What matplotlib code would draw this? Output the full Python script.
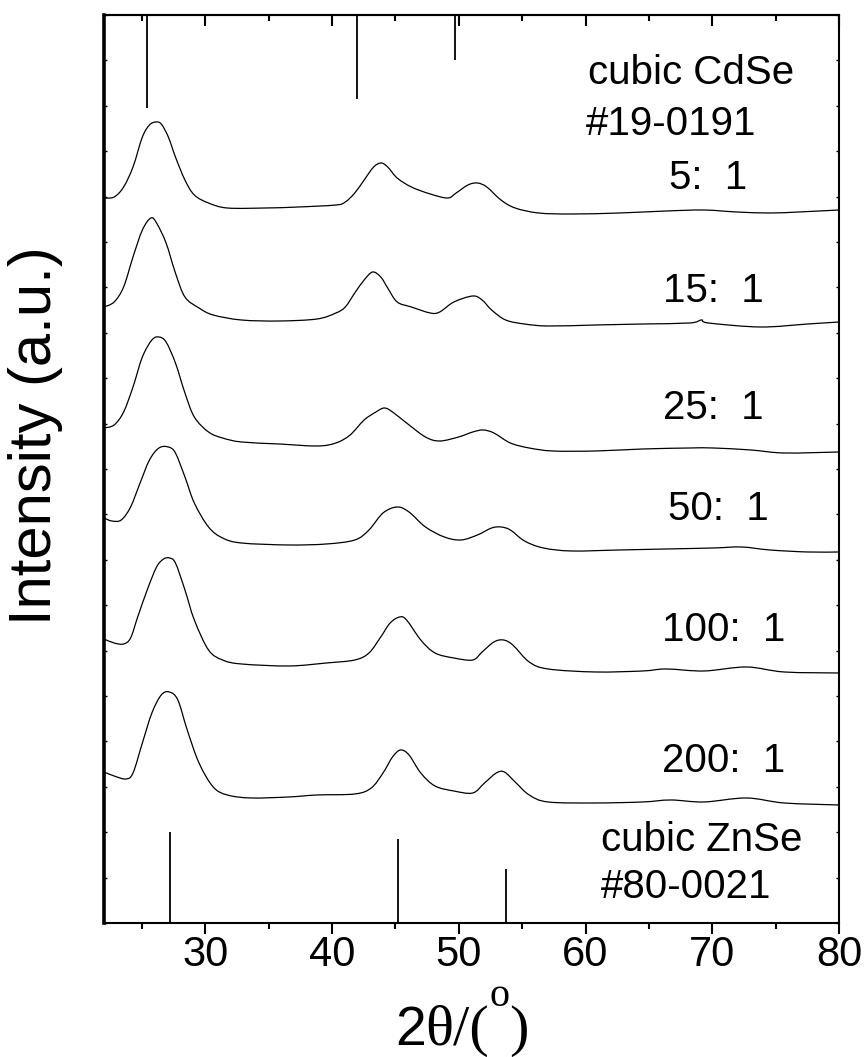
import matplotlib
matplotlib.use("Agg")
import matplotlib.pyplot as plt
from matplotlib.path import Path
from matplotlib.patches import PathPatch
from matplotlib.ticker import MultipleLocator
import numpy as np

# XRD patterns, stacked (intensity in a.u., offsets already included)
tt_5 = [22.0, 22.8, 23.55, 24.29, 25.03, 25.59, 26.08, 26.52, 27.08, 27.64, 28.39, 29.13, 30.25, 31.74,
        34.72, 37.32, 40.3, 41.04, 41.79, 42.53, 43.28, 43.87, 44.39, 45.14, 46.26, 47.75, 49.12, 49.79,
        50.72, 51.47, 52.21, 53.33, 54.45, 56.31, 58.91, 62.64, 66.36, 69.34, 71.95, 74.55, 76.78, 80.0]
y_5 = [725, 726, 736, 756, 786, 798, 801, 799, 786, 766, 743, 728, 720, 715,
       715, 716, 718, 721, 730, 743, 756, 760, 756, 745, 736, 729, 725, 730,
       738, 740, 736, 723, 715, 710, 709, 710, 712, 713, 711, 710, 711, 713]

tt_15 = [22.0, 22.8, 23.55, 24.29, 25.03, 25.7, 26.15, 26.9, 27.64, 28.39, 29.5, 30.62, 32.85, 35.83,
         38.81, 40.3, 41.04, 41.79, 42.53, 43.2, 43.84, 44.39, 45.14, 46.26, 47.75, 48.49, 49.61, 51.1,
         51.84, 52.59, 53.7, 55.19, 57.05, 60.78, 64.5, 68.22, 69.15, 69.71, 73.81, 77.53, 80.0]
y_15 = [616, 621, 636, 666, 693, 705, 700, 680, 650, 626, 615, 608, 603, 602,
        604, 610, 616, 630, 643, 651, 646, 635, 621, 616, 610, 611, 621, 627,
        623, 613, 603, 599, 597, 598, 599, 600, 603, 600, 596, 599, 601]

tt_25 = [22.0, 22.8, 23.55, 24.29, 25.03, 25.78, 26.34, 26.9, 27.64, 28.39, 29.13, 30.25, 31.36, 32.85,
         35.83, 38.81, 40.3, 41.42, 42.53, 43.46, 44.13, 44.77, 45.88, 47.37, 48.49, 49.98, 51.1, 51.92,
         52.77, 54.07, 55.56, 57.43, 60.78, 64.5, 68.22, 70.08, 73.06, 75.67, 80.0]
y_25 = [495, 498, 511, 536, 566, 583, 586, 581, 560, 530, 506, 491, 485, 481,
        479, 477, 480, 488, 503, 511, 515, 511, 500, 486, 482, 486, 491, 493,
        490, 480, 475, 472, 472, 474, 475, 475, 473, 470, 471]

tt_50 = [22.0, 22.62, 23.36, 24.1, 24.85, 25.59, 26.34, 27.08, 27.64, 28.39, 29.13, 30.25, 31.36, 32.85,
         36.58, 39.55, 41.79, 42.91, 44.02, 45.14, 46.07, 47.37, 48.86, 50.17, 51.47, 52.59, 53.33, 54.07,
         55.19, 56.68, 58.91, 62.64, 66.36, 70.08, 72.32, 74.55, 77.53, 80.0]
y_50 = [405, 402, 403, 416, 440, 463, 475, 476, 470, 446, 420, 396, 385, 380,
        378, 379, 383, 393, 410, 416, 411, 396, 386, 383, 388, 395, 396, 393,
        382, 375, 372, 373, 374, 375, 376, 373, 371, 371]

tt_100 = [22.0, 22.8, 23.55, 24.1, 24.66, 25.41, 26.15, 26.71, 27.16, 27.64, 28.39, 29.13, 30.25, 31.36,
          32.85, 36.58, 39.55, 41.79, 42.91, 43.84, 44.58, 45.33, 45.88, 47.0, 48.12, 49.61, 51.1, 51.84,
          52.77, 53.52, 54.26, 55.56, 57.05, 60.78, 64.5, 66.36, 69.34, 72.69, 75.67, 80.0]
y_100 = [284, 280, 279, 285, 306, 333, 356, 364, 365, 360, 333, 303, 273, 263,
         259, 257, 260, 263, 270, 286, 300, 306, 303, 283, 270, 265, 263, 271,
         281, 283, 278, 261, 254, 251, 252, 254, 252, 256, 251, 250]

tt_200 = [22.0, 22.8, 23.73, 24.29, 25.03, 25.78, 26.52, 27.16, 27.83, 28.57, 29.5, 30.62, 31.74, 33.6,
          36.58, 38.81, 41.79, 43.09, 44.02, 44.77, 45.4, 46.07, 47.0, 48.12, 49.61, 51.1, 52.03, 52.96,
          53.59, 54.45, 55.56, 57.05, 60.78, 64.5, 66.73, 69.34, 72.69, 75.67, 80.0]
y_200 = [151, 147, 144, 150, 180, 210, 228, 231, 223, 193, 160, 136, 128, 125,
         126, 128, 129, 135, 150, 166, 173, 168, 150, 137, 132, 130, 140, 150,
         151, 141, 128, 121, 120, 121, 123, 121, 125, 120, 118]

ratio_labels = ["5:  1", "15:  1", "25:  1", "50:  1", "100:  1", "200:  1"]
label_x = [66.55, 66.15, 66.15, 66.52, 66.02, 66.02]
label_y = [745, 632, 515, 414, 293, 162]

# reference patterns: CdSe hangs from the top, ZnSe stands on the bottom
cdse_pos = [25.4, 42.0, 49.7]
cdse_end = [815, 824, 863]
znse_pos = [27.2, 45.2, 53.75]
znse_top = [91, 84, 54]

Y_TOP = 908
SANS = "Liberation Sans"
SERIF = "Liberation Serif"


def smooth_path(xs, ys):
    # draw the trace as a smooth curve through the read points (Catmull-Rom as cubic Bezier)
    p = np.column_stack([xs, ys]).astype(float)
    ext = np.vstack([p[0], p, p[-1]])
    verts = [p[0]]
    codes = [Path.MOVETO]
    for i in range(1, len(ext) - 2):
        c1 = ext[i] + (ext[i + 1] - ext[i - 1]) / 6.0
        c2 = ext[i + 1] - (ext[i + 2] - ext[i]) / 6.0
        verts += [c1, c2, ext[i + 1]]
        codes += [Path.CURVE4] * 3
    return Path(verts, codes)


fig = plt.figure(figsize=(8.65, 10.57), dpi=100)
ax = fig.add_axes([0.1202, 0.1268, 0.8497, 0.8590])

curves = [(tt_5, y_5), (tt_15, y_15), (tt_25, y_25), (tt_50, y_50), (tt_100, y_100), (tt_200, y_200)]
for tt, yy in curves:
    ax.add_patch(PathPatch(smooth_path(tt, yy), facecolor="none", edgecolor="black",
                           lw=0.9, transform=ax.transData))

ax.vlines(cdse_pos, cdse_end, Y_TOP, color="black", lw=1.3)
ax.vlines(znse_pos, 0, znse_top, color="black", lw=1.3)

for lab, lx, ly in zip(ratio_labels, label_x, label_y):
    ax.text(lx, ly, lab, fontsize=29, family=SANS, ha="left", va="center")
ax.text(60.2, 850, "cubic CdSe", fontsize=29, family=SANS, ha="left", va="center")
ax.text(60.0, 799, "#19-0191", fontsize=29, family=SANS, ha="left", va="center")
ax.text(61.2, 83, "cubic ZnSe", fontsize=29, family=SANS, ha="left", va="center")
ax.text(61.2, 36, "#80-0021", fontsize=29, family=SANS, ha="left", va="center")

ax.set_xlim(22, 80)
ax.set_ylim(0, Y_TOP)
ax.xaxis.set_major_locator(MultipleLocator(10))
ax.xaxis.set_minor_locator(MultipleLocator(5))
ax.set_yticks(np.arange(0, Y_TOP + 1, Y_TOP / 20))
ax.tick_params(axis="x", which="major", direction="out", length=8, width=1.5,
               labelsize=30, pad=1)
ax.tick_params(axis="x", which="minor", direction="out", length=4.5, width=1.5)
ax.tick_params(axis="y", which="both", direction="in", length=2.5, width=1,
               left=True, right=True, labelleft=False)
for lbl in ax.get_xticklabels():
    lbl.set_family(SANS)

top = ax.secondary_xaxis("top")
top.xaxis.set_major_locator(MultipleLocator(10))
top.xaxis.set_minor_locator(MultipleLocator(5))
top.tick_params(axis="x", which="major", direction="in", length=8, width=1.5, labeltop=False)
top.tick_params(axis="x", which="minor", direction="in", length=4.5, width=1.5)
top.spines["top"].set_linewidth(1.5)

for side in ["top", "right", "bottom"]:
    ax.spines[side].set_linewidth(1.5)
ax.spines["left"].set_linewidth(2.6)

fig.text(0.0586, 0.5875, "Intensity (a.u.)", fontsize=43, family=SANS, rotation=90,
         rotation_mode="anchor", ha="center", va="baseline")

# x label built from pieces: sans "2", serif theta, superscript degree "o"
renderer = fig.canvas.get_renderer()
W, H = 865.0, 1057.0
base = (H - 1045) / H
pieces = [("2", SANS, 40, base), ("\u03b8/(", SERIF, 42, base),
          ("o", SERIF, 29, (H - 1006) / H), (")", SERIF, 42, base)]
x_px = 395.0
for s, fam, size, yb in pieces:
    t = fig.text(x_px / W, yb, s, fontsize=size, family=fam, ha="left", va="baseline")
    x_px = t.get_window_extent(renderer).x1

fig.savefig("out.png", dpi=100)
